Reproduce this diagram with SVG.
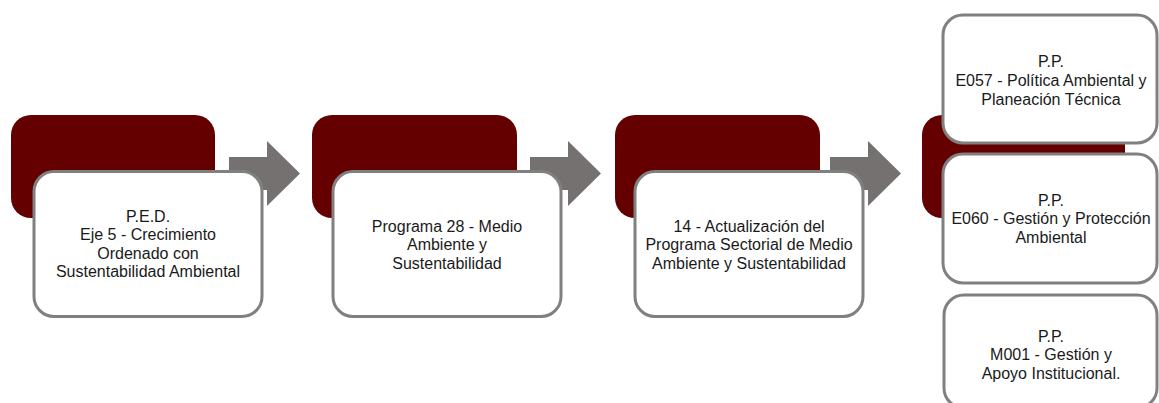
<svg xmlns="http://www.w3.org/2000/svg" width="1159" height="403" viewBox="0 0 1159 403">
<style>
.dark{fill:#640000}
.box{fill:#ffffff;stroke:#808080;stroke-width:3}
.arr{fill:#767171}
text{font-family:"Liberation Sans",Arial,sans-serif;font-size:16px;fill:#1a1a1a;text-anchor:middle}
</style>
<rect width="1159" height="403" fill="#ffffff"/>
<g id="connectors">
<path class="arr" d="M229,157 H267 V141 L300,173.5 L267,206 V190 H229 Z"/>
<path class="arr" d="M530,157 H568 V141 L601,173.5 L568,206 V190 H530 Z"/>
<path class="arr" d="M830,157 H868 V141 L901,173.5 L868,206 V190 H830 Z"/>
</g>
<g id="node1">
<rect class="dark" x="11" y="115" width="204" height="103" rx="20"/>
<rect class="box" x="34" y="171.5" width="228" height="145" rx="20"/>
<text x="148" y="222">P.E.D.</text>
<text x="148" y="240.4">Eje 5 - Crecimiento</text>
<text x="148" y="258.8">Ordenado con</text>
<text x="148" y="277.2">Sustentabilidad Ambiental</text>
</g>
<g id="node2">
<rect class="dark" x="312" y="115" width="205" height="103" rx="20"/>
<rect class="box" x="333" y="171.5" width="228" height="145" rx="20"/>
<text x="447" y="232">Programa 28 - Medio</text>
<text x="447" y="250.4">Ambiente y</text>
<text x="447" y="268.8">Sustentabilidad</text>
</g>
<g id="node3">
<rect class="dark" x="615" y="115" width="205" height="103" rx="20"/>
<rect class="box" x="635" y="171.5" width="228" height="145" rx="20"/>
<text x="749" y="232">14 - Actualización del</text>
<text x="749" y="250.4">Programa Sectorial de Medio</text>
<text x="749" y="268.8">Ambiente y Sustentabilidad</text>
</g>
<g id="node4">
<rect class="dark" x="922" y="115" width="203" height="103" rx="20"/>
</g>
<g id="node5">
<rect class="box" x="943" y="15" width="214" height="128" rx="20"/>
<text x="1051" y="67">P.P.</text>
<text x="1051" y="85.8">E057 - Política Ambiental y</text>
<text x="1051" y="104.6">Planeación Técnica</text>
</g>
<g id="node6">
<rect class="box" x="943" y="154" width="214" height="129" rx="20"/>
<text x="1051" y="205.5">P.P.</text>
<text x="1051" y="224.3">E060 - Gestión y Protección</text>
<text x="1051" y="243.1">Ambiental</text>
</g>
<g id="node7">
<rect class="box" x="944" y="295" width="213" height="113" rx="20"/>
<text x="1051" y="342">P.P.</text>
<text x="1051" y="360.4">M001 - Gestión y</text>
<text x="1051" y="378.8">Apoyo Institucional.</text>
</g>
</svg>
